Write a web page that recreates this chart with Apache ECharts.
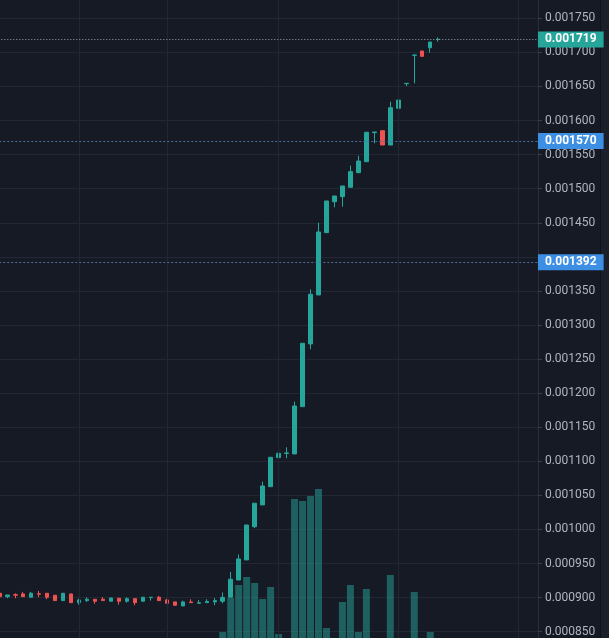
<!DOCTYPE html>
<html>
<head>
<meta charset="utf-8">
<script src="https://cdn.jsdelivr.net/npm/echarts@6/dist/echarts.min.js"></script>
<style>
html,body{margin:0;padding:0;background:#161a25;}
#c{width:609px;height:638px;}
</style>
</head>
<body>
<div id="c"></div>
<script>
// ---- data (one entry per candle, oldest first) ----
const opens = [
0.0009064,0.0009014,0.0009042,0.0009054,0.0009006,0.0009057,0.0009064,0.0009035,0.0008956,0.0009054,
0.0008926,0.0008956,0.0008976,0.0008976,0.0008947,0.0008991,0.0008947,0.0008985,0.0008947,0.0009000,
0.0009006,0.0008966,0.0008937,0.0008878,0.0008937,0.0008917,0.0008926,0.0008937,0.0008947,0.0009006,
0.0009259,0.0009553,0.0010041,0.0010360,0.0010628,0.0011054,0.0011115,0.0011108,0.0011802,0.0012722,
0.0013441,0.0014355,0.0014809,0.0014883,0.0015021,0.0015235,0.0015396,0.0015822,0.0015851,0.0015641,
0.0016180,0.0016541,0.0016957,0.0017020,0.0017069,0.0017189];
const closes = [
0.0009014,0.0009039,0.0009036,0.0009014,0.0009064,0.0009050,0.0009006,0.0008956,0.0009064,0.0008926,
0.0008966,0.0008976,0.0008947,0.0008956,0.0008995,0.0008947,0.0008985,0.0008926,0.0009006,0.0009006,
0.0008956,0.0008917,0.0008888,0.0008937,0.0008926,0.0008926,0.0008944,0.0008956,0.0009003,0.0009270,
0.0009567,0.0010066,0.0010385,0.0010638,0.0011059,0.0011118,0.0011123,0.0011812,0.0012732,0.0013451,
0.0014365,0.0014820,0.0014893,0.0015040,0.0015250,0.0015406,0.0015828,0.0015832,0.0015641,0.0016188,
0.0016301,0.0016546,0.0016962,0.0016942,0.0017152,0.0017192];
const lows = [
0.0009014,0.0008991,0.0008991,0.0009014,0.0009006,0.0009006,0.0008976,0.0008956,0.0008956,0.0008926,
0.0008897,0.0008937,0.0008907,0.0008956,0.0008947,0.0008897,0.0008926,0.0008888,0.0008947,0.0008956,
0.0008956,0.0008917,0.0008888,0.0008878,0.0008926,0.0008917,0.0008926,0.0008888,0.0008917,0.0009006,
0.0009259,0.0009553,0.0010022,0.0010360,0.0010628,0.0010995,0.0011045,0.0011108,0.0011802,0.0012644,
0.0013441,0.0014355,0.0014727,0.0014736,0.0015021,0.0015235,0.0015396,0.0015666,0.0015641,0.0015641,
0.0016180,0.0016507,0.0016546,0.0016942,0.0016995,0.0017157];
const highs = [
0.0009064,0.0009039,0.0009064,0.0009083,0.0009083,0.0009098,0.0009064,0.0009035,0.0009064,0.0009054,
0.0008985,0.0009006,0.0008976,0.0009006,0.0008995,0.0008991,0.0009006,0.0008985,0.0009006,0.0009006,
0.0009025,0.0008985,0.0008937,0.0008956,0.0008976,0.0008966,0.0008976,0.0008995,0.0009076,0.0009377,
0.0009633,0.0010066,0.0010385,0.0010702,0.0011059,0.0011189,0.0011206,0.0011875,0.0012732,0.0013524,
0.0014501,0.0014820,0.0014893,0.0015040,0.0015338,0.0015484,0.0015828,0.0015832,0.0015851,0.0016276,
0.0016301,0.0016546,0.0016962,0.0017020,0.0017152,0.0017221];
const volumes = [
0,0,0,0,0,0,0,0,0,0,
0,0,0,0,0,0,0,0,0,0,
0,0,0,0,0,0,0,0,6,40,
53,61,55,39,51,4,0,139,137,142,
149,10,0,36,53,6,49,0,0,63,
0,0,46,0,6,0];
const emptySlots = 12;                 // blank bars to the right of the last candle
const timeGridIdx = ['10','21','35','50','65'];   // vertical time grid lines (category names)
const priceLines = [0.001719, 0.001570, 0.001392];
const priceLineBg = ['#26a69a', '#3d8fe3', '#3d8fe3'];
const yMin = 0.0008, yMax = 0.0018, yStep = 0.00005;

// ---- build ----
const total = opens.length + emptySlots;
const categories = Array.from({length: total}, (_, i) => String(i));
const candleData = categories.map((_, i) => i < opens.length ? [opens[i], closes[i], lows[i], highs[i]] : '-');
const UP = '#26a69a', DOWN = '#ef5350';
const volData = categories.map((_, i) => {
  if (i >= opens.length) return '-';
  const up = closes[i] >= opens[i];
  return {value: volumes[i], itemStyle: {color: up ? 'rgba(38,166,154,0.5)' : 'rgba(239,83,80,0.5)'}};
});
const GRID = '#232733';
const LEFT = -4.7, RIGHT = 71.05;
// axis labels that collide with a price-line badge are hidden (as the price scale does)
const tickLabel = v => priceLines.some(p => Math.abs(p - v) < yStep * 0.2) ? '' : v.toFixed(6);

const chart = echarts.init(document.getElementById('c'), null, {renderer: 'canvas'});
chart.setOption({
  backgroundColor: '#161a25',
  animation: false,
  textStyle: {fontFamily: 'Roboto, sans-serif'},
  grid: [
    {left: LEFT, right: RIGHT, top: -15.78, bottom: -27.78, containLabel: false, outerBoundsMode: 'none'},
    {left: LEFT, right: RIGHT, bottom: 0, height: 200, containLabel: false, outerBoundsMode: 'none'}
  ],
  graphic: [
    {type: 'rect', right: 0, top: 0, z: -1, silent: true,
     shape: {width: 8, height: 638}, style: {fill: '#1b1f2a'}},
    {type: 'rect', right: 8, top: 0, z: -1, silent: true,
     shape: {width: 1, height: 638}, style: {fill: '#0f121a'}}
  ],
  xAxis: [
    {type: 'category', data: categories, gridIndex: 0, boundaryGap: true,
     axisLine: {show: false}, axisTick: {show: false}, axisLabel: {show: false}, splitLine: {show: false}},
    {type: 'category', data: categories, gridIndex: 1, boundaryGap: true, show: false}
  ],
  yAxis: [
    {type: 'value', gridIndex: 0, position: 'right', min: yMin, max: yMax, interval: yStep,
     axisLine: {show: true, lineStyle: {color: '#2a2e39'}},
     axisTick: {show: true, length: 4, lineStyle: {color: '#3b3f4b'}},
     axisLabel: {color: '#b2b5be', fontSize: 12, fontFamily: 'Roboto, sans-serif', margin: 7,
                 formatter: tickLabel},
     splitLine: {show: true, lineStyle: {color: GRID, width: 1}}},
    {type: 'value', gridIndex: 1, min: 0, max: 200, show: false}
  ],
  series: [
    {
      type: 'bar', name: 'Volume', xAxisIndex: 1, yAxisIndex: 1, data: volData,
      barWidth: 7, z: 1, silent: true
    },
    {
      type: 'line', name: 'guides', xAxisIndex: 0, yAxisIndex: 0, z: 1, silent: true,
      data: categories.map(() => '-'), symbol: 'none',
      markLine: {
        silent: true, symbol: ['none', 'none'], animation: false, precision: 10,
        data: [
          ...timeGridIdx.map(c => ({xAxis: c, lineStyle: {color: GRID, type: 'solid', width: 1}, label: {show: false}})),
          ...priceLines.map((p, i) => ({
            yAxis: p,
            lineStyle: i === 0 ? {color: '#9aa1b0', type: [1, 2], width: 1}
                               : {color: '#4d6d9a', type: [2, 2], width: 1},
            label: {show: true, position: 'end', distance: 0,
                    formatter: () => p.toFixed(6),
                    backgroundColor: priceLineBg[i], color: '#ffffff', fontWeight: 'bold',
                    fontSize: 12, fontFamily: 'Roboto, sans-serif',
                    padding: [2, 7, 2, 7], lineHeight: 12}
          }))
        ]
      }
    },
    {
      type: 'candlestick', name: 'Price', xAxisIndex: 0, yAxisIndex: 0, data: candleData,
      barWidth: 4, z: 3,
      itemStyle: {color: UP, color0: DOWN, borderColor: UP, borderColor0: DOWN, borderWidth: 1}
    }
  ]
});
</script>
</body>
</html>
